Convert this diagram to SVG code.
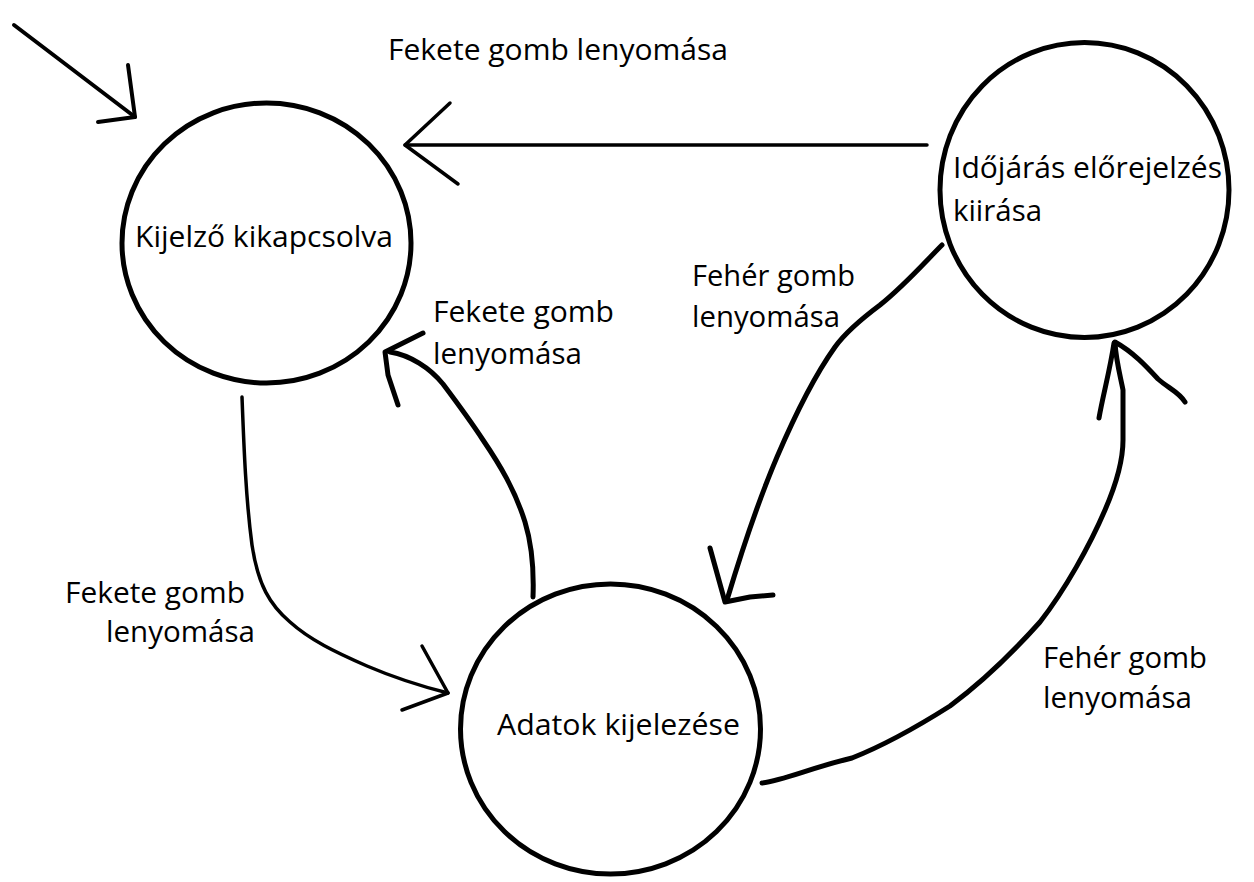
<svg xmlns="http://www.w3.org/2000/svg" width="1254" height="882" viewBox="0 0 1254 882">
<style>
  .node { fill: none; stroke: #000; stroke-width: 5; }
  .lbl { font-family: "Open Sans", "Noto Sans", "Liberation Sans", sans-serif; font-size: 29px; fill: #000; }
  .c { fill: none; stroke: #000; stroke-linecap: round; stroke-linejoin: round; }
  .thin { stroke-width: 3.5; }
  .mid { stroke-width: 4; }
  .thick { stroke-width: 5; }
</style>
<rect width="1254" height="882" fill="#fff"/>
<g id="connectors">
  <g id="initial">
    <path class="c mid" d="M14,25 L135,117"/>
    <path class="c mid" d="M128,65 L135,117 L98,122"/>
  </g>
  <g id="e-ido-kij">
    <path class="c thin" d="M927,145 L405,145"/>
    <path class="c thin" d="M450,103 L405,145 L458,184"/>
  </g>
  <g id="e-kij-ada">
    <path class="c thin" d="M242,397 C244,450 246,500 252,545 C258,585 270,605 290,622 C310,640 335,652 367,666 C395,678 420,686 448,693"/>
    <path class="c thin" d="M422,646 L448,693 L402,710"/>
  </g>
  <g id="e-ada-kij">
    <path class="c thick" d="M533,597 C534,570 532,545 525,522 C515,490 500,465 483,440 C470,420 455,400 443,384 C430,368 410,355 390,352"/>
    <path class="c thick" d="M423,333 L385,352 L388,375 L398,405"/>
  </g>
  <g id="e-ido-ada">
    <path class="c thick" d="M942,245 C925,262 905,285 880,305 C860,320 845,333 835,347 C815,375 795,415 777,457 C760,497 745,540 727,600"/>
    <path class="c thick" d="M710,548 L725,602 L750,597 L773,595"/>
  </g>
  <g id="e-ada-ido">
    <path class="c thick" d="M762,783 C785,780 810,768 852,758 C885,745 920,725 950,706 C985,680 1015,650 1040,622 C1065,590 1090,545 1105,510 C1118,480 1123,460 1123,440 L1123,390 C1120,375 1116,360 1115,343"/>
    <path class="c thick" d="M1099,418 C1103,395 1110,370 1114,343"/>
    <path class="c thick" d="M1115,342 C1133,352 1146,366 1158,379 C1168,388 1179,392 1185,402"/>
  </g>
</g>
<g id="labels">
  <text class="lbl" x="388" y="60" textLength="340" lengthAdjust="spacingAndGlyphs">Fekete gomb lenyomása</text>
  <text class="lbl" x="433" y="322" textLength="181" lengthAdjust="spacingAndGlyphs">Fekete gomb</text>
  <text class="lbl" x="433" y="364" textLength="149" lengthAdjust="spacingAndGlyphs">lenyomása</text>
  <text class="lbl" x="692" y="286" textLength="163" lengthAdjust="spacingAndGlyphs">Fehér gomb</text>
  <text class="lbl" x="692" y="327" textLength="148" lengthAdjust="spacingAndGlyphs">lenyomása</text>
  <text class="lbl" x="65" y="603" textLength="180" lengthAdjust="spacingAndGlyphs">Fekete gomb</text>
  <text class="lbl" x="106" y="642" textLength="149" lengthAdjust="spacingAndGlyphs">lenyomása</text>
  <text class="lbl" x="1043" y="668" textLength="164" lengthAdjust="spacingAndGlyphs">Fehér gomb</text>
  <text class="lbl" x="1043" y="708" textLength="149" lengthAdjust="spacingAndGlyphs">lenyomása</text>
</g>
<g id="kijelzo">
  <ellipse class="node" cx="266.5" cy="243" rx="144.5" ry="140"/>
  <text class="lbl" x="135" y="247" textLength="258" lengthAdjust="spacingAndGlyphs">Kijelző kikapcsolva</text>
</g>
<g id="idojaras">
  <ellipse class="node" cx="1084.5" cy="190" rx="144.5" ry="147.5"/>
  <text class="lbl" x="953" y="178" textLength="269" lengthAdjust="spacingAndGlyphs">Időjárás előrejelzés</text>
  <text class="lbl" x="953" y="221" textLength="89" lengthAdjust="spacingAndGlyphs">kiirása</text>
</g>
<g id="adatok">
  <ellipse class="node" cx="610.5" cy="729" rx="150" ry="145"/>
  <text class="lbl" x="497" y="735" textLength="243" lengthAdjust="spacingAndGlyphs">Adatok kijelezése</text>
</g>
</svg>
